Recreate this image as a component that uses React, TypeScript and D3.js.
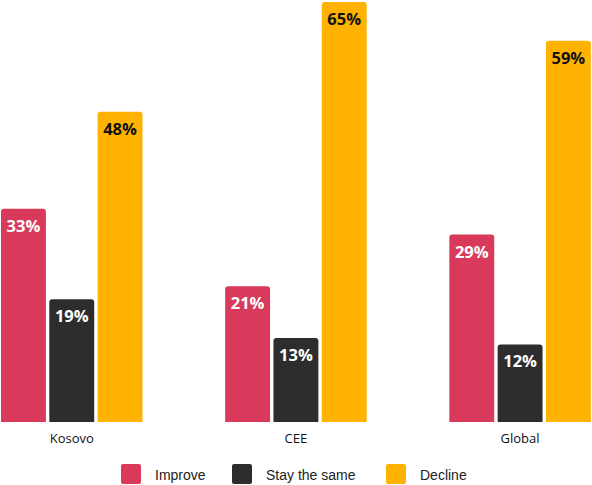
import React from "react";
import * as d3 from "d3";

const categories = ["Kosovo", "CEE", "Global"];
const seriesNames = ["Improve", "Stay the same", "Decline"];
const improve = [33, 21, 29];
const stay = [19, 13, 12];
const decline = [48, 65, 59];
const colors = ["#D9395A", "#2D2D2D", "#FFB300"];
const labelColors = ["#ffffff", "#ffffff", "#111111"];

const W = 592;
const H = 485;
const baseY = 422;

function topRoundedRect(x: number, y: number, w: number, h: number, r: number) {
  return `M${x},${y + h}V${y + r}Q${x},${y} ${x + r},${y}H${x + w - r}Q${x + w},${y} ${x + w},${y + r}V${y + h}Z`;
}

export default function App() {
  const series = [improve, stay, decline];
  const x0 = d3.scaleBand<string>().domain(categories).range([1, 590 + 83.5]).paddingInner(0).paddingOuter(0);
  const groupW = 141.5;
  const x1 = d3.scaleBand<string>().domain(seriesNames).range([0, groupW]).paddingInner(0.07);
  const y = d3.scaleLinear().domain([0, 65]).range([baseY, 2]);

  return (
    <svg width={W} height={H} style={{ position: "absolute", left: 0, top: 0 }}>
      {categories.map((c, ci) => (
        <g key={c} transform={`translate(${x0(c)},0)`}>
          {seriesNames.map((s, si) => {
            const v = series[si][ci];
            const bx = x1(s)!;
            const by = y(v);
            const bw = x1.bandwidth();
            return (
              <g key={s}>
                <path d={topRoundedRect(bx, by, bw, baseY - by, 3)} fill={colors[si]} />
                <text
                  x={bx + bw / 2}
                  y={by + 23}
                  textAnchor="middle"
                  fill={labelColors[si]}
                  fontFamily="'Open Sans', sans-serif"
                  fontWeight={700}
                  fontSize={16.5}
                >
                  {v}%
                </text>
              </g>
            );
          })}
          <text
            x={groupW / 2}
            y={443}
            textAnchor="middle"
            fill="#111"
            fontFamily="'Open Sans', sans-serif"
            fontSize={13}
          >
            {c}
          </text>
        </g>
      ))}
      {seriesNames.map((s, si) => {
        const lx = [121, 232, 386][si];
        return (
          <g key={s}>
            <rect x={lx} y={464} width={20} height={20} rx={2} fill={colors[si]} />
            <text x={lx + 34} y={480} fill="#222" fontFamily="'Liberation Sans', Arial, sans-serif" fontSize={14}>
              {s}
            </text>
          </g>
        );
      })}
    </svg>
  );
}
